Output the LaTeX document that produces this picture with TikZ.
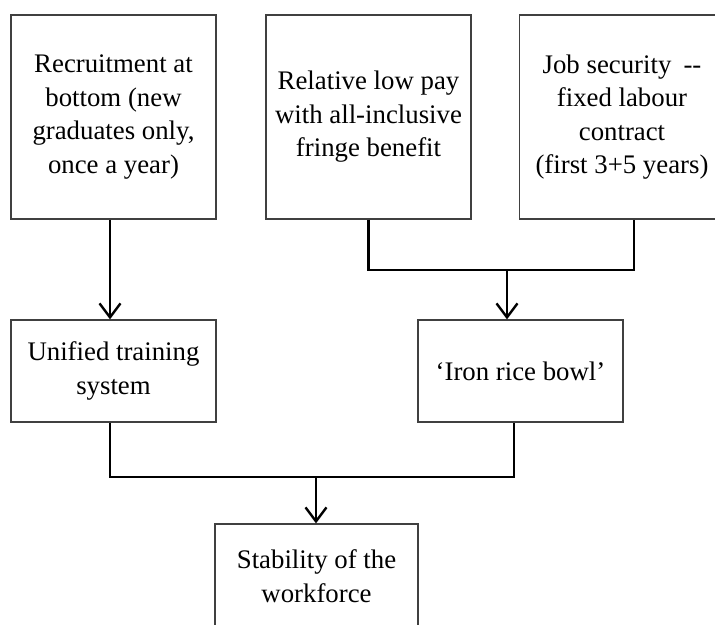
\documentclass[tikz,border=0pt]{standalone}
\usepackage{fontspec}
\setmainfont{Liberation Serif}
\usetikzlibrary{arrows.meta}
\begin{document}
\begin{tikzpicture}[x=1pt,y=-1pt,
  box/.style={draw=black!75, line width=1.2pt, rectangle, inner sep=0pt,
    minimum width=205pt, align=center,
    font=\fontsize{26.8}{33.5}\selectfont},
  tallbox/.style={box, minimum height=204pt},
  lowbox/.style={box, minimum height=102pt},
  link/.style={line width=2.6pt, line join=miter},
  arr/.style={link, -{Straight Barb[length=14pt, width=21pt, line width=2.4pt]}}]
\useasboundingbox (0,0) rectangle (715,624);
\clip (0,0) rectangle (715,624);

% top row
\node[tallbox] (recruit) at (113.5,117) {Recruitment at\\bottom (new\\graduates only,\\once a year)};
\node[tallbox] (pay) at (368.5,117) {Relative low pay\\with all-inclusive\\fringe benefit};
\node[tallbox] (job) at (622,117) {Job security\hspace{0.45em}-{}-\\fixed labour\\contract\\(first 3+5 years)};

% middle row
\node[lowbox] (train) at (113.5,371) {Unified training\\system};
\node[lowbox] (bowl) at (520.5,371) {`Iron rice bowl'};

% bottom
\node[box, minimum width=203pt, minimum height=104pt] (stab) at (316.5,576) {Stability of the\\workforce};

% connectors
\coordinate (topjoin) at (507,270);
\coordinate (botjoin) at (316,477);

\draw[arr] ([xshift=-3.5pt]recruit.south) -- ([xshift=-3.5pt]train.north);
\draw[link] (pay.south) |- (topjoin) -| ([xshift=12pt]job.south);
\draw[arr] (topjoin) -- (topjoin |- bowl.north);
\draw[link] ([xshift=-3.5pt]train.south) |- (botjoin) -| ([xshift=-6.5pt]bowl.south);
\draw[arr] (botjoin) -- (botjoin |- stab.north);
\end{tikzpicture}
\end{document}
